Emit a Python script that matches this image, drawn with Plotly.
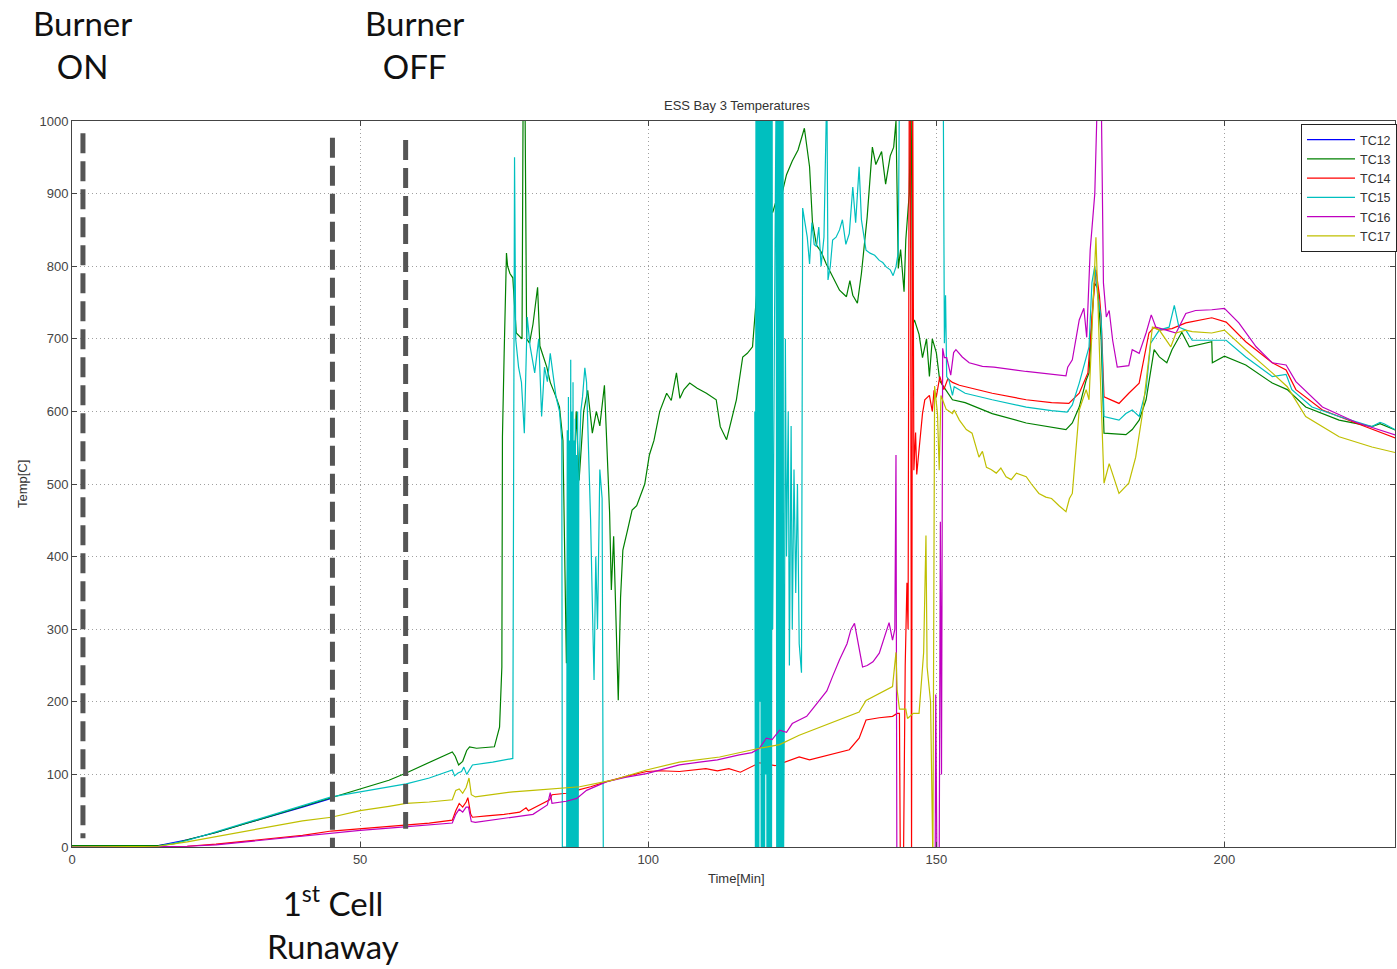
import plotly.graph_objects as go

# ---------------- data ----------------
series_names = ["TC12", "TC13", "TC14", "TC15", "TC16", "TC17"]
series_colors = ["#0000FF", "#008000", "#FF0000", "#00BFBF", "#BF00BF", "#BFBF00"]

tc12_t = [0, 15, 20, 25, 30, 35, 40, 45]
tc12_y = [2, 2, 10, 20, 32, 43, 55, 67]

tc13_t = [0, 10, 15, 18, 20, 25, 30, 35, 40, 45, 50, 55, 58, 62, 66, 66.5, 67.1, 67.8, 68.5, 69, 70.2, 73.3, 74.2, 74.6,
          74.7, 75.0, 75.4, 75.6, 76.0, 76.5, 77.1, 78.1, 78.3, 78.6, 78.9, 79.4, 80.0, 80.8, 81.2, 82.4, 83.0, 84.0,
          84.6, 85.2, 85.8, 86.2, 86.8, 87.5, 88.0, 88.8, 89.5, 90.3, 91.0, 91.6, 92.4, 93.3, 93.6, 94.0, 94.5, 94.8,
          95.2, 95.6, 96.4, 97.2, 98.0, 99.4, 100.2, 101.0, 102.0, 103.2, 104.0, 104.9, 105.5, 106.2, 107.2, 108.5,
          110.1, 111.8, 112.5, 113.6, 114.5, 115.3, 116.4, 117.2, 118.1, 118.8, 119.3, 119.8, 120.5, 121.6, 122.2,
          122.8, 124.0, 125.0, 126.0, 127.1, 128.0, 128.5, 129.2, 130.0, 130.9, 132.0, 133.2, 134.4, 135.0, 135.5,
          136.3, 137.0, 138.0, 138.9, 139.5, 140.5, 141.2, 142.0, 142.6, 143.0, 143.4, 143.8, 144.4, 144.7, 145.3,
          145.6, 145.9, 146.2, 147.0, 147.6, 148.3, 148.8, 149.3, 150.0, 150.6, 151.7, 152.8, 155, 159.7, 165.6, 170,
          172.5, 173.6, 174.8, 176.0, 176.5, 177.4, 178.0, 178.6, 179.1, 182.9, 184.0, 185.2, 186.4, 187.8, 188.7,
          190.0, 190.9, 192.6, 193.9, 197.8, 197.9, 200.0, 203.7, 208.3, 210.9, 214.1, 219.9, 225.6, 227, 229.8]
tc13_y = [2, 2, 2, 5, 10, 20, 32, 43, 55, 67, 80, 92, 102, 116, 131, 125, 113, 118, 133, 138, 136, 138, 165, 248,
          565, 680, 818, 800, 790, 784, 708, 700, 1050, 1050, 700, 694, 720, 771, 690, 661, 640, 620,
          606, 560, 253, 500, 420, 600, 505, 600, 629, 570, 600, 580, 636, 460, 354, 428, 299, 202,
          344, 409, 436, 464, 470, 500, 540, 560, 600, 625, 615, 653, 618, 630, 639, 632,
          625, 616, 579, 561, 590, 616, 675, 680, 689, 760, 880, 900, 884, 874, 890,
          886, 926, 945, 960, 990, 937, 861, 829, 820, 803, 785, 767, 758, 780, 760,
          749, 790, 868, 964, 940, 958, 913, 952, 964, 1000, 797, 823, 765, 836, 900,
          1050, 719, 726, 706, 674, 700, 648, 700, 681, 642, 629, 616, 612, 597, 584, 578,
          575, 584, 606, 643, 653, 777, 770, 700, 570, 568, 575, 588, 616, 685, 675,
          667, 685, 709, 689, 696, 667, 676, 664, 639, 630, 606, 588, 579, 583, 574]

tc14_t = [0, 18, 20, 25, 30, 35, 40, 45, 50, 55, 58, 62, 66, 66.6, 67.2, 67.8, 68.4, 68.7, 69.2, 69.5, 72, 75, 77.7,
          78.8, 79.2, 82.9, 83.3, 85.8, 88.1, 90, 92.8, 96, 99.7, 102, 105.4, 108, 110, 112, 114, 116, 119.3, 122,
          124, 126.2, 128, 131, 134.9, 136.6, 137.8, 140.1, 142.4, 143.2, 143.6, 143.75, 144.3, 144.6, 144.9, 145.1,
          145.3, 145.5, 145.7, 145.9, 146.1, 146.4, 146.6, 146.9, 147.6, 148.0, 148.8, 149.3, 149.6, 150.0, 150.6,
          151.3, 152, 152.8, 154, 159.7, 165.6, 170, 173, 174.8, 176.3, 177.0, 177.7, 178.3, 178.6, 179.1, 181.7,
          183.4, 185.2, 186.9, 187.8, 188.7, 190.9, 193.3, 197.8, 200.3, 203.7, 208.3, 210.7, 212.4, 217, 222.8, 229.8]
tc14_y = [0, 0, 1, 4, 8, 12, 16, 22, 25, 28, 30, 33, 37, 50, 60, 55, 62, 68, 45, 41, 43, 45, 48,
          54, 50, 65, 72, 74, 79, 83, 90, 97, 104, 105, 104, 106, 108, 105, 108, 103, 116, 112,
          118, 124, 120, 126, 134, 150, 175, 178, 180, 184, 184, -20, -20, 250, 364, 300,
          1050, 1050, -20, 1050, 519, 571, 513, 539, 597, 616, 622, 600, 629, 620, 648,
          630, 645, 640, 636, 625, 616, 612, 611, 625, 653, 730, 795, 760, 730, 620, 611,
          625, 639, 708, 716, 712, 714, 722, 729, 723, 696, 667, 657, 630, 602, 584, 563]

tc15_t = [0, 15, 20, 25, 30, 35, 40, 45, 50, 55, 58, 62, 66, 66.4, 67.0, 67.6, 68.0, 68.5, 69.5, 73, 76.5, 76.8,
          77.0, 77.5, 78.0, 78.5, 79.0, 79.5, 80.3, 81.0, 81.5, 82.0, 82.5, 83.0, 84.0, 84.6, 85.0, 85.1, 85.85,
          85.95, 86.05, 86.15, 86.25, 86.35, 86.45, 86.55, 86.65, 86.75, 86.85, 86.95, 87.05, 87.15, 87.25, 87.35,
          87.45, 87.55, 87.65, 87.75, 87.85, 87.95, 88.1, 88.3,
          88.6, 89.0, 89.3, 89.6, 90.0, 90.4, 90.6, 90.9, 91.2, 91.6, 92.0, 92.2, 92.3,
          118.4, 118.5, 118.6, 118.7, 118.8, 118.9, 119.0, 119.1, 119.2, 119.3, 119.4, 119.5, 119.6, 119.7, 119.8,
          119.9, 120.0, 120.1, 120.2, 120.3, 120.4, 120.5, 120.6, 120.7, 120.8, 120.9, 121.0, 121.1, 121.2, 121.3,
          121.4, 121.5, 121.6, 121.9, 122.2, 122.3, 122.4, 122.5, 122.6, 122.7, 122.8, 122.9, 123.0, 123.1, 123.2,
          123.3, 123.4, 123.5, 123.6,
          123.8, 124.0, 124.3, 124.5, 124.8, 125.0, 125.3, 125.6, 125.9, 126.2, 126.6, 126.8, 127.2, 127.6, 128.0,
          128.4, 128.8, 129.2, 129.6, 130.0, 130.5, 131.0, 131.2, 131.6, 132.0, 132.6, 133.2, 133.7, 134.3, 134.9,
          135.5, 136.0, 136.6, 137.0, 137.8, 138.5, 139.3, 140.1, 140.7, 141.3, 142.0, 142.5, 143.0, 143.4, 143.6,
          151.2, 151.4, 151.6, 151.8, 152.2, 152.8, 153.1, 155, 159.7, 165.6, 170, 172.7, 173.6, 174.8, 176.5,
          177.0, 177.5, 178.0, 178.6, 179.1, 181.7, 182.9, 184.0, 185.2, 186.4, 187.2, 188.7, 190.4, 191.3, 192.1,
          193.3, 194.4, 197.8, 200.3, 203.7, 208.3, 210.7, 211.7, 215.2, 219.9, 225.6, 227.0, 227.7, 229.8]
tc15_y = [0, 1, 9, 21, 33, 45, 57, 69, 76, 83, 87, 95, 106, 98, 102, 104, 110, 100, 113, 117, 122, 950,
          700, 661, 640, 570, 730, 690, 653, 700, 593, 661, 641, 680, 620, 600, 560, 0, 0,
          574, 0, 620, 0, 560, 0, 671, 0, 600, 0, 640, 0, 560, 0, 590,
          0, 540, 0, 600, 0, 500, 560, 600,
          620, 660, 640, 560, 450, 299, 230, 400, 300, 520, 480, 0, None,
          None, 600, 0, 1050, 0, 1050, 0, 1050, 0, 1050, 200, 1050, 0, 1050, 0,
          1050, 0, 1050, 0, 1050, 100, 1050, 0, 1050, 0, 1050, 0, 1050, 0, 1050,
          0, 1050, 300, 700, 1050, 0, 1050, 0, 1050, 0, 1050, 0, 1050, 0, 1050,
          0, 1050, 0, 150,
          700, 400, 600, 250, 580, 300, 520, 350, 500, 280, 240, 880, 860, 840, 803,
          860, 830, 827, 854, 800, 840, 1050, 781, 800, 836, 840, 850, 864, 830, 845,
          909, 860, 937, 864, 822, 818, 815, 808, 805, 799, 795, 787, 799, 820, 1050,
          1050, 694, 760, 648, 643, 622, 634, 625, 616, 606, 601, 599, 609, 639, 689,
          777, 800, 760, 730, 593, 588, 597, 602, 593, 630, 694, 712, 716, 746, 716,
          712, 698, 698, 698, 675, 648, 651, 630, 606, 593, 579, 585, 583, 574]

tc16_t = [0, 18, 20, 25, 30, 35, 40, 45, 50, 55, 58, 62, 66, 66.6, 67.2, 67.8, 68.4, 68.8, 69.3, 70, 73, 76.5, 80,
          82.5, 83.0, 83.3, 85.8, 87.6, 89.3, 92.8, 96, 99.7, 103, 105.4, 108.9, 112, 115.8, 118, 119.3, 120.5,
          121.5, 122.8, 124, 125, 126.2, 127.5, 128.5, 129.7, 131, 132, 133.2, 134.5, 135.2, 135.8, 136.6, 137.2,
          138, 139, 140.1, 141.3, 141.8, 142.4, 142.8, 143.0, 143.15, 149.8, 149.9, 150.1, 150.5, 150.7, 150.9,
          151.1, 151.4, 151.8, 152.5, 153.0, 153.4, 154.5, 155.7, 158, 160, 165.6, 170, 172.5, 172.8, 173.6, 174.8,
          175.6, 176.1, 176.7, 177.5, 178.0, 178.6, 179.0, 179.5, 180.0, 180.6, 181.4, 183.4, 184.0, 185.2, 186.4,
          187.3, 188.1, 189.9, 191.6, 193.3, 195, 197.8, 200, 202.5, 205.5, 208.3, 210.7, 212.4, 217, 222.8, 229.8]
tc16_y = [0, 0, 1, 3, 7, 11, 15, 20, 23, 26, 28, 30, 33, 45, 52, 48, 55, 55, 35, 34, 37, 41, 45,
          58, 75, 60, 63, 67, 78, 90, 96, 101, 108, 113, 117, 120, 127, 130, 136, 150,
          148, 161, 158, 170, 175, 180, 190, 202, 215, 235, 258, 280, 300, 308, 271, 248,
          250, 255, 267, 295, 309, 285, 300, 540, -20, -20, 210, -20, -20, 448, 100,
          687, 674, 674, 650, 681, 685, 675, 667, 662, 661, 655, 651, 649, 661, 671, 726,
          742, 702, 822, 900, 1050, 1050, 777, 730, 739, 698, 661, 663, 685, 680, 708,
          733, 716, 712, 708, 735, 739, 740, 742, 722, 689, 667, 664, 641, 606, 585, 567]

tc17_t = [0, 12, 15, 20, 25, 30, 35, 40, 45, 50, 55, 58, 62, 66, 66.6, 67.2, 67.8, 68.4, 68.9, 69.3, 70, 73, 76.5,
          80, 83.4, 88.1, 93.8, 99.7, 105.4, 112.4, 119.3, 122.8, 126.2, 129.7, 133.2, 136.6, 137.8, 140.1, 142.4,
          143.0, 143.2, 143.6, 144.7, 145.0, 146, 147, 147.8, 148.2, 148.4, 149.0, 149.4, 149.7, 150.2, 150.5,
          150.8, 151.7, 152.8, 153.1, 154, 155.2, 156.2, 157.4, 158.0, 158.7, 159.5, 160.4, 161.2, 162.1, 163.0,
          163.9, 165.6, 166.5, 167.8, 169.0, 170, 171.3, 172.5,
          173.1, 173.6, 174.8, 176.0, 176.5, 177.7, 178.3, 179.1, 180, 180.9, 181.7, 183.4, 184.6, 185.7, 186.9,
          187.5, 188.7, 189.9, 190.7, 191.6, 193.3, 194.4, 197.8, 200, 203.7, 208.3, 210.9, 214.1, 219.9, 225.6,
          229.8]
tc17_y = [0, 0, 1, 7, 14, 21, 29, 36, 41, 50, 56, 60, 62, 65, 78, 80, 74, 82, 95, 72, 69, 72, 76,
          78, 80, 83, 92, 106, 117, 124, 136, 141, 154, 165, 175, 186, 202, 212, 221,
          268, 216, 190, 190, 177, 184, 184, 268, 429, 248, 200, -20, 635, 597, 519,
          622, 603, 597, 602, 588, 575, 570, 537, 545, 523, 520, 515, 522, 510, 506,
          515, 510, 500, 487, 482, 480, 470, 462,
          480, 487, 602, 630, 616, 840, 685, 501, 528, 505, 487, 501, 537, 593, 680,
          716, 712, 698, 689, 708, 712, 710, 708, 712, 685, 653, 634, 593, 565, 551,
          543]

series_t = [tc12_t, tc13_t, tc14_t, tc15_t, tc16_t, tc17_t]
series_y = [tc12_y, tc13_y, tc14_y, tc15_y, tc16_y, tc17_y]

x_ticks = [0, 50, 100, 150, 200]
y_ticks = [0, 100, 200, 300, 400, 500, 600, 700, 800, 900, 1000]

# event markers (time, bottom, top) drawn as thick dashed lines
event_times = [1.9, 45.2, 57.9]
event_bottoms = [12, 0, 25]
event_tops = [983, 977, 974]

# ---------------- figure ----------------
fig = go.Figure()
for name, color, t, y in zip(series_names, series_colors, series_t, series_y):
    fig.add_trace(go.Scatter(x=t, y=y, mode="lines", name=name,
                             line=dict(color=color, width=1.2), connectgaps=False))

for xt, yb, yt in zip(event_times, event_bottoms, event_tops):
    fig.add_shape(type="line", xref="x", yref="y", x0=xt, x1=xt, y0=yt, y1=yb,
                  line=dict(color="#555555", width=5, dash="20px,8px"), layer="above")

sans = "Liberation Sans, Arial, sans-serif"
axis_font = dict(family=sans, size=13, color="#444444")
fig.update_layout(
    width=1397, height=969,
    margin=dict(l=72, r=0, t=121, b=122),
    paper_bgcolor="white", plot_bgcolor="white",
    showlegend=True,
    legend=dict(x=(1303 - 72) / 1325, y=(847 - 124) / 726, xanchor="left", yanchor="top",
                bordercolor="#222222", borderwidth=1, bgcolor="white",
                font=dict(family=sans, size=12.5, color="#333333"),
                tracegroupgap=0, itemwidth=48),
    font=axis_font,
)
fig.update_xaxes(range=[0, 229.6], tickvals=x_ticks, ticks="inside", ticklen=5, tickcolor="#444444",
                 showline=True, linecolor="#444444", linewidth=1, mirror="ticks",
                 showgrid=True, gridcolor="#a0a0a0", griddash="1px,3px", gridwidth=1,
                 zeroline=False, tickfont=axis_font)
fig.update_yaxes(range=[0, 1000], tickvals=y_ticks, ticks="inside", ticklen=5, tickcolor="#444444",
                 showline=True, linecolor="#444444", linewidth=1, mirror="ticks",
                 showgrid=True, gridcolor="#a0a0a0", griddash="1px,3px", gridwidth=1,
                 zeroline=False, tickfont=axis_font)

small_font = dict(family=sans, size=13, color="#333333")
fig.add_annotation(text="ESS Bay 3 Temperatures", xref="paper", yref="paper",
                   x=(738 - 72) / 1325, y=(847 - 105) / 726, xanchor="center", yanchor="middle",
                   showarrow=False, font=small_font)
fig.add_annotation(text="Time[Min]", xref="paper", yref="paper",
                   x=(738 - 72) / 1325, y=(847 - 878) / 726, xanchor="center", yanchor="middle",
                   showarrow=False, font=small_font)
fig.add_annotation(text="Temp[C]", xref="paper", yref="paper", textangle=-90,
                   x=(22 - 72) / 1325, y=(847 - 484) / 726, xanchor="center", yanchor="middle",
                   showarrow=False, font=small_font)

# callout labels
big_font = dict(family="Lato, Open Sans, sans-serif", size=33, color="#111111")
callouts = [("Burner<br>ON", 83, 44), ("Burner<br>OFF", 415, 44), ("1<sup>st</sup> Cell<br>Runaway", 333, 922)]
for txt, px, py in callouts:
    fig.add_annotation(text=txt, xref="paper", yref="paper",
                       x=(px - 72) / 1325, y=(847 - py) / 726, xanchor="center", yanchor="middle",
                       showarrow=False, font=big_font, align="center")

fig.write_html("out.html")
